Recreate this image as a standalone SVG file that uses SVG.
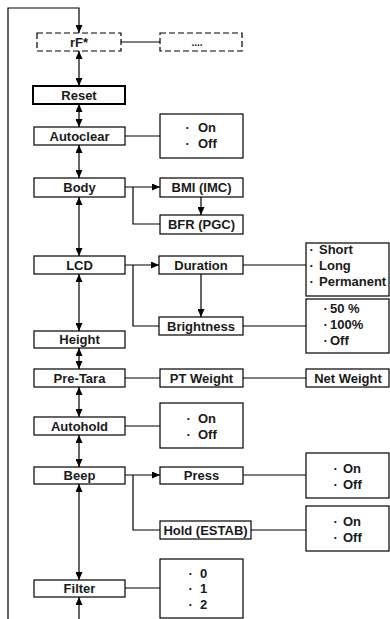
<svg xmlns="http://www.w3.org/2000/svg" width="390" height="619" viewBox="0 0 390 619">
<style>
.b{fill:#fff;stroke:#000;stroke-width:1.2}
.d{fill:#fff;stroke:#000;stroke-width:1.2;stroke-dasharray:6,3}
.r{fill:#fff;stroke:#000;stroke-width:2}
text{font-family:"Liberation Sans",Arial,sans-serif;font-weight:bold;font-size:13px;fill:#1a1a1a}
.c{text-anchor:middle}
#connectors path{fill:none;stroke:#000;stroke-width:1.2}
</style>
<defs>
<marker id="a" viewBox="0 0 8 7" refX="8" refY="3.5" markerWidth="8" markerHeight="7" markerUnits="userSpaceOnUse" orient="auto-start-reverse">
<path d="M0,0 L8,3.5 L0,7 z" fill="#000"/>
</marker>
</defs>
<rect width="390" height="619" fill="#fff"/>
<g id="connectors">
<path d="M8,619 V8 H79 V33" marker-end="url(#a)"/>
<path d="M79,51 V86" marker-start="url(#a)" marker-end="url(#a)"/>
<path d="M79,104 V127" marker-start="url(#a)" marker-end="url(#a)"/>
<path d="M79,145 V178" marker-start="url(#a)" marker-end="url(#a)"/>
<path d="M79,197 V256" marker-start="url(#a)" marker-end="url(#a)"/>
<path d="M79,274 V331" marker-start="url(#a)" marker-end="url(#a)"/>
<path d="M79,348 V369" marker-start="url(#a)" marker-end="url(#a)"/>
<path d="M79,387 V417" marker-start="url(#a)" marker-end="url(#a)"/>
<path d="M79,435 V467" marker-start="url(#a)" marker-end="url(#a)"/>
<path d="M79,484 V580" marker-start="url(#a)" marker-end="url(#a)"/>
<path d="M79,619 V597" marker-end="url(#a)"/>
<path d="M121,42 H160"/>
<path d="M125,136 H160"/>
<path d="M125,187 H160" marker-end="url(#a)"/>
<path d="M133,187 V224 H160"/>
<path d="M201,197 V215" marker-end="url(#a)"/>
<path d="M125,265 H159" marker-end="url(#a)"/>
<path d="M133,265 V326 H159"/>
<path d="M201,274 V317" marker-end="url(#a)"/>
<path d="M243,265 H306"/>
<path d="M243,326 H306"/>
<path d="M125,378 H160"/>
<path d="M243,378 H306"/>
<path d="M125,426 H160"/>
<path d="M125,475 H160" marker-end="url(#a)"/>
<path d="M133,475 V530 H160"/>
<path d="M243,475 H306"/>
<path d="M251,530 H306"/>
<path d="M125,588 H160"/>
</g>
<g id="rf"><rect class="d" x="37" y="33" width="84" height="18"/><text class="c" x="79" y="46.5">rF*</text></g>
<g id="more"><rect class="d" x="160" y="33" width="82" height="18"/><text class="c" x="197" y="46" style="font-size:10px">....</text></g>
<g id="reset"><rect class="r" x="33" y="86" width="92" height="18"/><text class="c" x="79" y="99.5">Reset</text></g>
<g id="autoclear"><rect class="b" x="34" y="127" width="91" height="18"/><text class="c" x="79.5" y="140.5">Autoclear</text></g>
<g id="autoclear-opts"><rect class="b" x="160" y="114" width="83" height="44"/>
<text y="132"><tspan x="185.5">·</tspan><tspan x="198">On</tspan></text>
<text y="148"><tspan x="185.5">·</tspan><tspan x="198">Off</tspan></text></g>
<g id="body"><rect class="b" x="34" y="178" width="91" height="19"/><text class="c" x="79.5" y="192">Body</text></g>
<g id="bmi"><rect class="b" x="160" y="178" width="83" height="19"/><text class="c" x="201.5" y="192">BMI (IMC)</text></g>
<g id="bfr"><rect class="b" x="160" y="215" width="83" height="19"/><text class="c" x="201.5" y="229">BFR (PGC)</text></g>
<g id="lcd"><rect class="b" x="34" y="256" width="91" height="18"/><text class="c" x="79.5" y="269.5">LCD</text></g>
<g id="duration"><rect class="b" x="159" y="256" width="84" height="18"/><text class="c" x="201" y="269.5">Duration</text></g>
<g id="duration-opts"><rect class="b" x="306" y="243" width="83" height="53"/>
<text y="253.5"><tspan x="309.5">·</tspan><tspan x="319">Short</tspan></text>
<text y="270"><tspan x="309.5">·</tspan><tspan x="319">Long</tspan></text>
<text y="286"><tspan x="309.5">·</tspan><tspan x="319">Permanent</tspan></text></g>
<g id="brightness"><rect class="b" x="159" y="317" width="84" height="18"/><text class="c" x="201" y="330.5">Brightness</text></g>
<g id="brightness-opts"><rect class="b" x="306" y="299" width="83" height="54"/>
<text y="313"><tspan x="323.5">·</tspan><tspan x="330">50 %</tspan></text>
<text y="329"><tspan x="323.5">·</tspan><tspan x="330">100%</tspan></text>
<text y="344.5"><tspan x="323.5">·</tspan><tspan x="330">Off</tspan></text></g>
<g id="height"><rect class="b" x="34" y="331" width="91" height="17"/><text class="c" x="79.5" y="344">Height</text></g>
<g id="pretara"><rect class="b" x="34" y="369" width="91" height="18"/><text class="c" x="79.5" y="382.5">Pre-Tara</text></g>
<g id="ptweight"><rect class="b" x="160" y="369" width="83" height="18"/><text class="c" x="201.5" y="382.5">PT Weight</text></g>
<g id="netweight"><rect class="b" x="306" y="369" width="83" height="18"/><text class="c" x="348" y="382.5">Net Weight</text></g>
<g id="autohold"><rect class="b" x="34" y="417" width="91" height="18"/><text class="c" x="79.5" y="430.5">Autohold</text></g>
<g id="autohold-opts"><rect class="b" x="160" y="403" width="83" height="45"/>
<text y="423"><tspan x="186.5">·</tspan><tspan x="198">On</tspan></text>
<text y="438.5"><tspan x="186.5">·</tspan><tspan x="198">Off</tspan></text></g>
<g id="beep"><rect class="b" x="34" y="467" width="91" height="17"/><text class="c" x="79.5" y="480">Beep</text></g>
<g id="press"><rect class="b" x="160" y="467" width="83" height="17"/><text class="c" x="201.5" y="480">Press</text></g>
<g id="press-opts"><rect class="b" x="306" y="453" width="83" height="45"/>
<text y="472.5"><tspan x="333.5">·</tspan><tspan x="343">On</tspan></text>
<text y="488.5"><tspan x="333.5">·</tspan><tspan x="343">Off</tspan></text></g>
<g id="hold"><rect class="b" x="160" y="521" width="91" height="18"/><text class="c" x="205.5" y="534.5">Hold (ESTAB)</text></g>
<g id="hold-opts"><rect class="b" x="306" y="506" width="83" height="45"/>
<text y="526"><tspan x="333.5">·</tspan><tspan x="343">On</tspan></text>
<text y="541.5"><tspan x="333.5">·</tspan><tspan x="343">Off</tspan></text></g>
<g id="filter"><rect class="b" x="34" y="580" width="91" height="17"/><text class="c" x="79.5" y="593">Filter</text></g>
<g id="filter-opts"><rect class="b" x="160" y="559" width="83" height="59"/>
<text y="577.5"><tspan x="188.5">·</tspan><tspan x="200">0</tspan></text>
<text y="593"><tspan x="188.5">·</tspan><tspan x="200">1</tspan></text>
<text y="608.5"><tspan x="188.5">·</tspan><tspan x="200">2</tspan></text></g>
</svg>
